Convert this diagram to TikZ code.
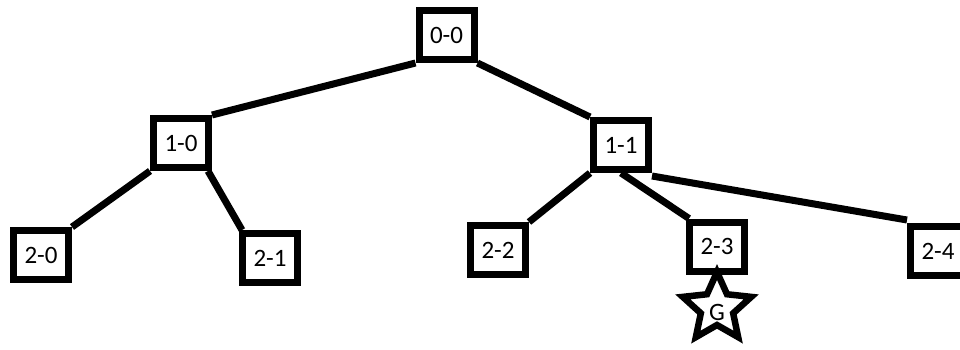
\documentclass[tikz,border=0pt]{standalone}
\usepackage{fontspec}
\setmainfont{Carlito}
\usetikzlibrary{calc}
\begin{document}
\begin{tikzpicture}[x=1pt,y=-1pt,
  box/.style={draw=black,line width=7pt,fill=white,minimum width=55pt,minimum height=49pt,inner sep=0pt,font=\fontsize{25}{25}\selectfont},
  edge/.style={draw=black,line width=7pt},
  starline/.style={draw=black,line width=6.5pt,line join=miter,miter limit=3}]
\useasboundingbox (0,0) rectangle (960,349);
\fill[white] (0,0) rectangle (960,349);
\clip (0,0) rectangle (960,349);
\node[box] (n00) at (446.5,35) {0-0};
\node[box] (n10) at (181,143) {1-0};
\node[box] (n11) at (621,145) {1-1};
\node[box] (n20) at (41,255) {2-0};
\node[box] (n21) at (270,258) {2-1};
\node[box] (n22) at (498,250) {2-2};
\node[box] (n23) at (717,246.5) {2-3};
\node[box] (n24) at (938,251) {2-4};
\coordinate (sc) at (717,308);
\draw[starline] ($(sc)+(0,-36)$)
  \foreach \i in {0,...,4} {
    -- ($(sc)+({sin(\i*72+36)*17},{-cos(\i*72+36)*17})$)
    -- ($(sc)+({sin((\i+1)*72)*36},{-cos((\i+1)*72)*36})$)
  } -- cycle;
\node[inner sep=0pt,font=\fontsize{25}{25}\selectfont] (g) at (717,312) {G};
\draw[edge] (n00.south west) -- (n10.north east);
\draw[edge] (n00.south east) -- (n11.north west);
\draw[edge] (n10.south west) -- (n20.north east);
\draw[edge] ([xshift=-4pt]n10.south east) -- ([xshift=3pt]n21.north west);
\draw[edge] (n11.south west) -- (n22.north east);
\draw[edge] (n11.south) -- ([xshift=3pt]n23.north west);
\draw[edge] ([yshift=-3pt]n11.south east) -- ([yshift=3pt]n24.north west);
\end{tikzpicture}
\end{document}
